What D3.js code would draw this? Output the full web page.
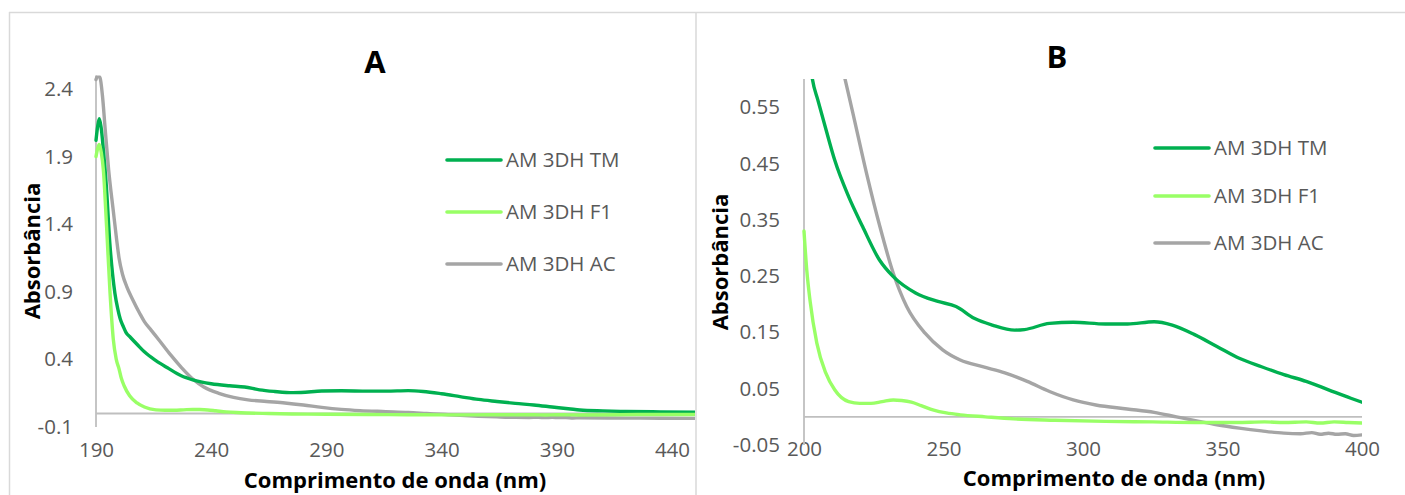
<!DOCTYPE html>
<html><head><meta charset="utf-8">
<script src="https://cdn.jsdelivr.net/npm/d3@7"></script>
<style>body{margin:0;background:#fff}svg{display:block}</style>
</head><body>
<svg id="c" width="1405" height="495"></svg>
<script>
// ---------- data ----------
const seriesNames = ["AM 3DH TM", "AM 3DH F1", "AM 3DH AC"];
const seriesColors = ["#00B050", "#99FF66", "#A5A5A5"];

const tmNm  = [190,190.7,191.4,192.2,193.2,194.5,196,197.2,198.2,199.5,200.5,201.8,203,205,208,211,216,221,227,232,240,248,254.5,261,267.5,275.5,279,288,296.5,308,316,325.5,332,340,348,356,364,372,380,388,396,400,410,420,435,450];
const tmAbs = [2.02,2.12,2.18,2.12,1.95,1.68,1.26,1.03,0.89,0.77,0.70,0.645,0.60,0.562,0.508,0.456,0.391,0.338,0.279,0.249,0.22,0.205,0.196,0.175,0.163,0.154,0.155,0.166,0.168,0.165,0.165,0.169,0.163,0.146,0.125,0.104,0.089,0.075,0.063,0.048,0.033,0.026,0.019,0.015,0.012,0.010];

const f1Nm  = [190,190.7,191.4,192.3,193.2,194.6,196.1,197.5,198.8,200,201,202.2,204.6,207.8,211,216,220,224,228,232,235,238.5,242,246.5,251,256,265,275,290,308,325,340,355,365,372,380,385,390,395,400,425,450];
const f1Abs = [1.90,1.96,1.99,1.93,1.80,1.38,0.89,0.55,0.40,0.33,0.26,0.205,0.131,0.078,0.048,0.027,0.024,0.024,0.027,0.030,0.029,0.026,0.020,0.012,0.007,0.0036,0.000,-0.0036,-0.006,-0.008,-0.009,-0.010,-0.010,-0.009,-0.010,-0.009,-0.011,-0.009,-0.010,-0.011,-0.008,-0.007];

const acNm  = [190,190.8,191.8,192.8,194,195.5,197.5,199,200,201.5,203.3,206,209,211,214,217.5,222.4,227.2,232,236.8,243.3,249.7,256,264,272,280,288,296.5,304.6,315.8,325.5,333.5,341.6,348,356,364,372,378,382,385,388,391,394,397,400,420,435,450];
const acAbs = [2.47,2.50,2.48,2.35,2.10,1.80,1.50,1.28,1.15,1.03,0.94,0.84,0.74,0.68,0.615,0.54,0.433,0.338,0.255,0.196,0.149,0.119,0.101,0.089,0.078,0.063,0.045,0.030,0.021,0.014,0.008,0.000,-0.008,-0.014,-0.020,-0.025,-0.029,-0.030,-0.028,-0.031,-0.029,-0.031,-0.030,-0.033,-0.032,-0.034,-0.035,-0.036];

const ticksAx = [190,240,290,340,390,440];
const ticksAy = [-0.1,0.4,0.9,1.4,1.9,2.4];
const ticksBx = [200,250,300,350,400];
const ticksBy = [-0.05,0.05,0.15,0.25,0.35,0.45,0.55];

const xTitle = "Comprimento de onda (nm)";
const yTitle = "Absorbância";

// ---------- drawing ----------
const svg = d3.select("#c");
const FONT = "'Open Sans', sans-serif";
const TXT = "#595959";
const AXIS = "#BFBFBF";

// frame lines
svg.append("line").attr("x1",9).attr("x2",1405).attr("y1",12.5).attr("y2",12.5).attr("stroke","#D9D9D9").attr("stroke-width",1.5);
svg.append("line").attr("x1",9.5).attr("x2",9.5).attr("y1",12).attr("y2",495).attr("stroke","#D9D9D9").attr("stroke-width",1.5);
svg.append("line").attr("x1",696).attr("x2",696).attr("y1",12).attr("y2",495).attr("stroke","#D9D9D9").attr("stroke-width",1.5);

const series = [
  {name: seriesNames[0], color: seriesColors[0], nm: tmNm, v: tmAbs},
  {name: seriesNames[1], color: seriesColors[1], nm: f1Nm, v: f1Abs},
  {name: seriesNames[2], color: seriesColors[2], nm: acNm, v: acAbs}
];

function panel(cfg, id) {
  const x = d3.scaleLinear().domain(cfg.xDom).range(cfg.xRange);
  const y = d3.scaleLinear().domain(cfg.yDom).range(cfg.yRange);
  const g = svg.append("g");

  g.append("clipPath").attr("id", "clip" + id).append("rect")
    .attr("x", cfg.xRange[0] - 2).attr("y", cfg.yRange[1])
    .attr("width", cfg.xRange[1] - cfg.xRange[0] + 2)
    .attr("height", cfg.yRange[0] - cfg.yRange[1] + 10);

  // y axis labels
  const ya = g.append("g").attr("transform", `translate(${x(cfg.xDom[0])},0)`)
    .call(d3.axisLeft(y).tickValues(cfg.yTicks).tickSize(0).tickPadding(cfg.yPad)
      .tickFormat(d => String(+d.toFixed(2))));
  ya.select(".domain").remove();
  ya.selectAll("text").attr("font-family", FONT).attr("font-size", 20.5).attr("fill", TXT);

  // x axis labels
  const xa = g.append("g").attr("transform", `translate(0,${cfg.xLabY - 7.3})`)
    .call(d3.axisBottom(x).tickValues(cfg.xTicks).tickSize(0).tickPadding(0).tickFormat(d => String(d)));
  xa.select(".domain").remove();
  xa.selectAll("text").attr("font-family", FONT).attr("font-size", 20.5).attr("fill", TXT);

  // axis lines
  g.append("line").attr("x1", x(cfg.xDom[0])).attr("x2", x(cfg.xDom[0]))
    .attr("y1", y(cfg.yDom[0])).attr("y2", y(cfg.yDom[1]))
    .attr("stroke", AXIS).attr("stroke-width", 1.8);
  g.append("line").attr("x1", x(cfg.xDom[0])).attr("x2", x(cfg.xDom[1]))
    .attr("y1", y(0)).attr("y2", y(0))
    .attr("stroke", AXIS).attr("stroke-width", 1.8);

  // series
  const line = d3.line().x(d => x(d[0])).y(d => y(d[1])).curve(d3.curveMonotoneX);
  const order = [2, 0, 1];
  order.forEach(i => {
    const s = series[i];
    const pts = s.nm.map((n, k) => [n, s.v[k]]).filter(p => p[0] >= cfg.xDom[0] && p[0] <= cfg.xDom[1]);
    g.append("path").attr("d", line(pts)).attr("fill", "none")
      .attr("stroke", s.color).attr("stroke-width", 3.4)
      .attr("stroke-linejoin", "round").attr("stroke-linecap", "round")
      .attr("clip-path", `url(#clip${id})`);
  });

  // legend
  series.forEach((s, i) => {
    const ly = cfg.legY[i];
    g.append("line").attr("x1", cfg.legX[0]).attr("x2", cfg.legX[1]).attr("y1", ly).attr("y2", ly)
      .attr("stroke", s.color).attr("stroke-width", 3.6).attr("stroke-linecap", "round");
    g.append("text").attr("x", cfg.legX[1] + 5).attr("y", ly).attr("dy", "0.36em")
      .attr("font-family", FONT).attr("font-size", 20.5).attr("fill", TXT).text(s.name);
  });

  // titles
  g.append("text").attr("x", cfg.title[0]).attr("y", cfg.title[1]).attr("dy", "0.36em")
    .attr("text-anchor", "middle").attr("font-family", FONT).attr("font-weight", "bold")
    .attr("font-size", 31).attr("fill", "#000").text(cfg.label);
  g.append("text").attr("x", cfg.xT[0]).attr("y", cfg.xT[1]).attr("dy", "0.36em")
    .attr("text-anchor", "middle").attr("font-family", FONT).attr("font-weight", "bold")
    .attr("font-size", 22).attr("fill", "#000").text(xTitle);
  g.append("text").attr("transform", `translate(${cfg.yT[0]},${cfg.yT[1]}) rotate(-90)`).attr("dy", "0.36em")
    .attr("text-anchor", "middle").attr("font-family", FONT).attr("font-weight", "bold")
    .attr("font-size", 22).attr("fill", "#000").text(yTitle);
}

panel({
  label: "A",
  xDom: [190, 450], xRange: [96, 695],
  yDom: [-0.1, 2.5], yRange: [427, 75.5],
  xTicks: ticksAx, yTicks: ticksAy, yPad: 23, xLabY: 450,
  legX: [447, 501], legY: [160, 212, 264],
  title: [375, 62], xT: [395, 480], yT: [32, 251]
}, "A");

panel({
  label: "B",
  xDom: [200, 400], xRange: [804, 1362],
  yDom: [-0.05, 0.6], yRange: [445, 79],
  xTicks: ticksBx, yTicks: ticksBy, yPad: 24, xLabY: 449,
  legX: [1155, 1209], legY: [148, 196, 243],
  title: [1057, 57], xT: [1114, 478], yT: [720, 262]
}, "B");
</script>
</body></html>
